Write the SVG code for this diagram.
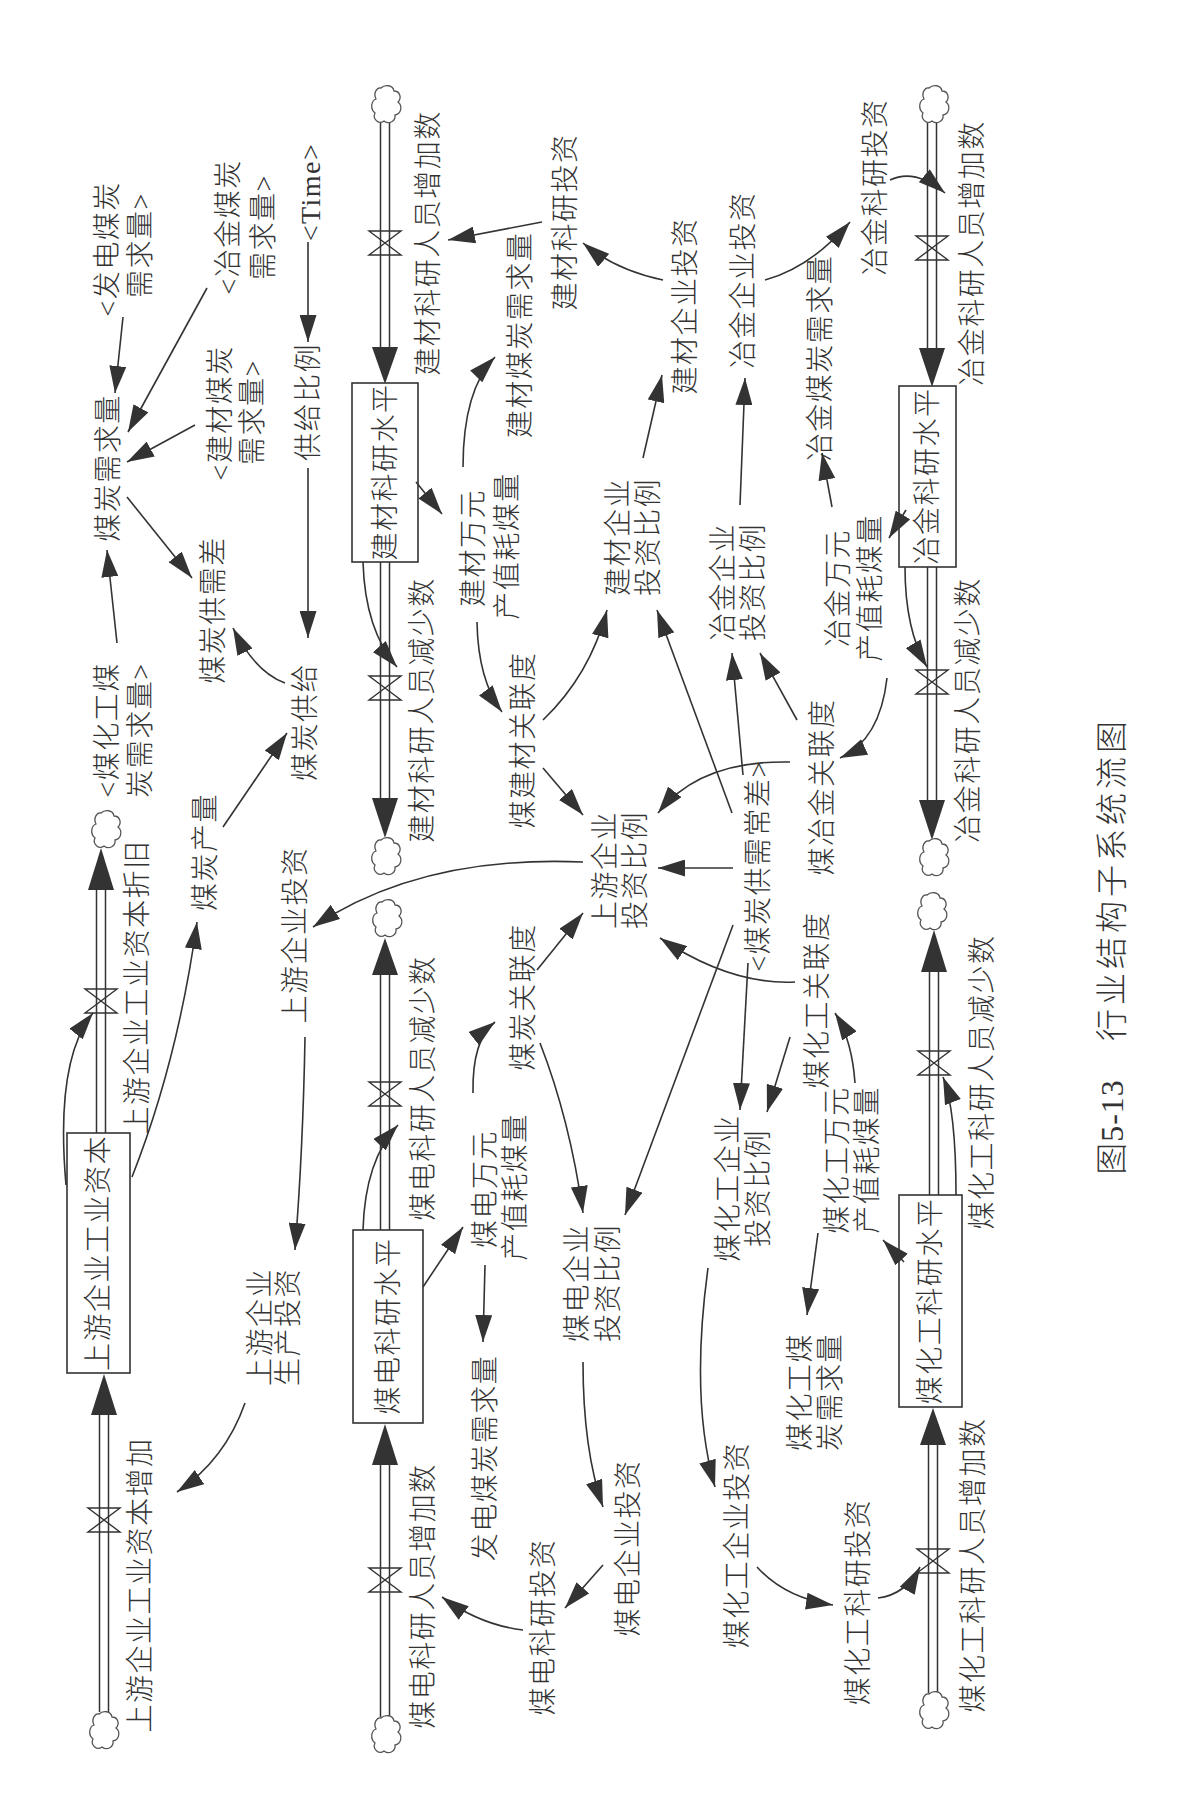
<svg xmlns="http://www.w3.org/2000/svg" width="1203" height="1813" viewBox="0 0 1203 1813">
<style>
.t{font-family:"Liberation Serif","Noto Sans CJK SC",serif;font-size:28px;font-weight:300;fill:#333;text-anchor:middle;dominant-baseline:central;letter-spacing:1.5px}
.cap{font-family:"Liberation Serif","Noto Sans CJK SC",serif;font-size:32px;font-weight:300;fill:#333;text-anchor:middle;dominant-baseline:central;letter-spacing:4px}
.c{fill:none;stroke:#333;stroke-width:1.6;marker-end:url(#ah)}
.box{fill:#fff;stroke:#333;stroke-width:1.6}
.po{fill:none;stroke:#333;stroke-width:10.5}
.pi{fill:none;stroke:#fff;stroke-width:7.5}
.ph{fill:#333}
.v{fill:none;stroke:#333;stroke-width:1.4}
.cl{fill:#fff;stroke:#555;stroke-width:1.3}
</style>
<defs>
<marker id="ah" markerUnits="userSpaceOnUse" markerWidth="27" markerHeight="17" refX="27" refY="8.5" orient="auto"><path d="M0,0 L27,8.5 L0,17 Z" fill="#333"/></marker>
<path id="cloud" d="M-6,-17 C-2,-21 6,-20 7,-14 C13,-14 15,-7 11,-3 C16,1 14,9 8,10 C9,16 2,20 -3,16 C-8,20 -15,14 -12,8 C-17,4 -16,-4 -11,-6 C-14,-12 -10,-18 -6,-17 Z"/>
<path id="valve" d="M-16,-12 L16,-12 L-16,12 L16,12 Z"/>
</defs>
<rect width="1203" height="1813" fill="#fff"/>

<g id="pipes">
<path class="po" d="M104,1712 V1415"/><path class="pi" d="M104,1712 V1415"/>
<polygon class="ph" points="104,1374 91,1415 117,1415"/>
<use href="#valve" class="v" x="104" y="1520"/>
<use href="#cloud" class="cl" x="105" y="1731"/>
<path class="po" d="M101,1133 V890"/><path class="pi" d="M101,1133 V890"/>
<polygon class="ph" points="101,848 88,890 114,890"/>
<use href="#valve" class="v" x="101" y="1001"/>
<use href="#cloud" class="cl" x="107" y="830"/>
<path class="po" d="M385,123 V347"/><path class="pi" d="M385,123 V347"/>
<polygon class="ph" points="385,384 372,347 398,347"/>
<use href="#valve" class="v" x="385" y="243"/>
<use href="#cloud" class="cl" x="387" y="105"/>
<path class="po" d="M385,562 V798"/><path class="pi" d="M385,562 V798"/>
<polygon class="ph" points="385,838 372,798 398,798"/>
<use href="#valve" class="v" x="385" y="688"/>
<use href="#cloud" class="cl" x="387" y="857"/>
<path class="po" d="M932,123 V348"/><path class="pi" d="M932,123 V348"/>
<polygon class="ph" points="932,387 919,348 945,348"/>
<use href="#valve" class="v" x="932" y="248"/>
<use href="#cloud" class="cl" x="935" y="105"/>
<path class="po" d="M932,567 V800"/><path class="pi" d="M932,567 V800"/>
<polygon class="ph" points="932,840 919,800 945,800"/>
<use href="#valve" class="v" x="932" y="682"/>
<use href="#cloud" class="cl" x="935" y="858"/>
<path class="po" d="M385,1230 V975"/><path class="pi" d="M385,1230 V975"/>
<polygon class="ph" points="385,938 372,975 398,975"/>
<use href="#valve" class="v" x="385" y="1094"/>
<use href="#cloud" class="cl" x="388" y="919"/>
<path class="po" d="M385,1717 V1465"/><path class="pi" d="M385,1717 V1465"/>
<polygon class="ph" points="385,1424 372,1465 398,1465"/>
<use href="#valve" class="v" x="385" y="1580"/>
<use href="#cloud" class="cl" x="387" y="1735"/>
<path class="po" d="M934,1195 V972"/><path class="pi" d="M934,1195 V972"/>
<polygon class="ph" points="934,930 921,972 947,972"/>
<use href="#valve" class="v" x="934" y="1063"/>
<use href="#cloud" class="cl" x="933" y="912"/>
<path class="po" d="M933,1693 V1445"/><path class="pi" d="M933,1693 V1445"/>
<polygon class="ph" points="933,1408 920,1445 946,1445"/>
<use href="#valve" class="v" x="933" y="1561"/>
<use href="#cloud" class="cl" x="935" y="1711"/>
</g>

<g id="stock-upstream"><rect class="box" x="67" y="1133" width="63" height="240"/><text class="t" transform="translate(98,1253) rotate(-90)">上游企业工业资本</text></g>
<g id="stock-jiancai"><rect class="box" x="352" y="383" width="66" height="179"/><text class="t" transform="translate(385,472) rotate(-90)">建材科研水平</text></g>
<g id="stock-yejin"><rect class="box" x="899" y="386" width="57" height="181"/><text class="t" transform="translate(927,476) rotate(-90)">冶金科研水平</text></g>
<g id="stock-meidian"><rect class="box" x="353" y="1230" width="70" height="193"/><text class="t" transform="translate(388,1326) rotate(-90)">煤电科研水平</text></g>
<g id="stock-meihuagong"><rect class="box" x="899" y="1195" width="63" height="212"/><text class="t" transform="translate(930,1301) rotate(-90)">煤化工科研水平</text></g>

<g id="n-fadian-demand-shadow"><text class="t" transform="translate(107,249) rotate(-90)">&lt;发电煤炭</text><text class="t" transform="translate(140,245) rotate(-90)">需求量&gt;</text></g>
<g id="n-yejin-demand-shadow"><text class="t" transform="translate(228,227) rotate(-90)">&lt;冶金煤炭</text><text class="t" transform="translate(263,227) rotate(-90)">需求量&gt;</text></g>
<g id="n-jiancai-demand-shadow"><text class="t" transform="translate(220,413) rotate(-90)">&lt;建材煤炭</text><text class="t" transform="translate(252,412) rotate(-90)">需求量&gt;</text></g>
<g id="n-coal-demand"><text class="t" transform="translate(108,468) rotate(-90)">煤炭需求量</text></g>
<g id="n-time"><text class="t" transform="translate(310,192) rotate(-90)">&lt;Time&gt;</text></g>
<g id="n-supply-ratio"><text class="t" transform="translate(308,402) rotate(-90)">供给比例</text></g>
<g id="n-jc-inc"><text class="t" transform="translate(428,243) rotate(-90)">建材科研人员增加数</text></g>
<g id="n-jc-rd-inv"><text class="t" transform="translate(565,222) rotate(-90)">建材科研投资</text></g>
<g id="n-jc-coal-demand"><text class="t" transform="translate(520,335) rotate(-90)">建材煤炭需求量</text></g>
<g id="n-jc-ent-inv"><text class="t" transform="translate(685,306) rotate(-90)">建材企业投资</text></g>
<g id="n-yj-ent-inv"><text class="t" transform="translate(743,280) rotate(-90)">冶金企业投资</text></g>
<g id="n-yj-coal-demand"><text class="t" transform="translate(820,358) rotate(-90)">冶金煤炭需求量</text></g>
<g id="n-yj-rd-inv"><text class="t" transform="translate(875,187) rotate(-90)">冶金科研投资</text></g>
<g id="n-yj-inc"><text class="t" transform="translate(972,253) rotate(-90)">冶金科研人员增加数</text></g>
<g id="n-gap"><text class="t" transform="translate(213,610) rotate(-90)">煤炭供需差</text></g>
<g id="n-supply"><text class="t" transform="translate(305,722) rotate(-90)">煤炭供给</text></g>
<g id="n-mhg-demand-shadow"><text class="t" transform="translate(107,730) rotate(-90)">&lt;煤化工煤</text><text class="t" transform="translate(140,730) rotate(-90)">炭需求量&gt;</text></g>
<g id="n-depr"><text class="t" transform="translate(137,987) rotate(-90)">上游企业工业资本折旧</text></g>
<g id="n-output"><text class="t" transform="translate(205,852) rotate(-90)">煤炭产量</text></g>
<g id="n-jc-dec"><text class="t" transform="translate(422,710) rotate(-90)">建材科研人员减少数</text></g>
<g id="n-up-inv"><text class="t" transform="translate(295,935) rotate(-90)">上游企业投资</text></g>
<g id="n-jc-wanyuan"><text class="t" transform="translate(473,548) rotate(-90)">建材万元</text><text class="t" transform="translate(507,546) rotate(-90)">产值耗煤量</text></g>
<g id="n-jc-ratio"><text class="t" transform="translate(618,537) rotate(-90)">建材企业</text><text class="t" transform="translate(648,537) rotate(-90)">投资比例</text></g>
<g id="n-mjc-rel"><text class="t" transform="translate(523,740) rotate(-90)">煤建材关联度</text></g>
<g id="n-up-ratio"><text class="t" transform="translate(605,870) rotate(-90)">上游企业</text><text class="t" transform="translate(635,870) rotate(-90)">投资比例</text></g>
<g id="n-yj-ratio"><text class="t" transform="translate(723,582) rotate(-90)">冶金企业</text><text class="t" transform="translate(753,582) rotate(-90)">投资比例</text></g>
<g id="n-gap-shadow"><text class="t" transform="translate(758,866) rotate(-90)">&lt;煤炭供需常差&gt;</text></g>
<g id="n-myj-rel"><text class="t" transform="translate(822,787) rotate(-90)">煤冶金关联度</text></g>
<g id="n-yj-wanyuan"><text class="t" transform="translate(838,588) rotate(-90)">冶金万元</text><text class="t" transform="translate(870,588) rotate(-90)">产值耗煤量</text></g>
<g id="n-yj-dec"><text class="t" transform="translate(968,710) rotate(-90)">冶金科研人员减少数</text></g>
<g id="n-up-prod-inv"><text class="t" transform="translate(260,1327) rotate(-90)">上游企业</text><text class="t" transform="translate(288,1327) rotate(-90)">生产投资</text></g>
<g id="n-md-dec"><text class="t" transform="translate(423,1088) rotate(-90)">煤电科研人员减少数</text></g>
<g id="n-mt-rel"><text class="t" transform="translate(523,997) rotate(-90)">煤炭关联度</text></g>
<g id="n-md-wanyuan"><text class="t" transform="translate(485,1189) rotate(-90)">煤电万元</text><text class="t" transform="translate(515,1187) rotate(-90)">产值耗煤量</text></g>
<g id="n-md-ratio"><text class="t" transform="translate(577,1283) rotate(-90)">煤电企业</text><text class="t" transform="translate(608,1283) rotate(-90)">投资比例</text></g>
<g id="n-mhg-ratio"><text class="t" transform="translate(728,1188) rotate(-90)">煤化工企业</text><text class="t" transform="translate(758,1188) rotate(-90)">投资比例</text></g>
<g id="n-mhg-rel"><text class="t" transform="translate(817,1000) rotate(-90)">煤化工关联度</text></g>
<g id="n-mhg-dec"><text class="t" transform="translate(982,1082) rotate(-90)">煤化工科研人员减少数</text></g>
<g id="n-mhg-wanyuan"><text class="t" transform="translate(837,1160) rotate(-90)">煤化工万元</text><text class="t" transform="translate(867,1160) rotate(-90)">产值耗煤量</text></g>
<g id="n-up-add"><text class="t" transform="translate(140,1585) rotate(-90)">上游企业工业资本增加</text></g>
<g id="n-md-inc"><text class="t" transform="translate(423,1596) rotate(-90)">煤电科研人员增加数</text></g>
<g id="n-fadian-demand"><text class="t" transform="translate(485,1458) rotate(-90)">发电煤炭需求量</text></g>
<g id="n-md-ent-inv"><text class="t" transform="translate(628,1548) rotate(-90)">煤电企业投资</text></g>
<g id="n-md-rd-inv"><text class="t" transform="translate(543,1627) rotate(-90)">煤电科研投资</text></g>
<g id="n-mhg-ent-inv"><text class="t" transform="translate(737,1545) rotate(-90)">煤化工企业投资</text></g>
<g id="n-mhg-demand"><text class="t" transform="translate(800,1392) rotate(-90)">煤化工煤</text><text class="t" transform="translate(830,1392) rotate(-90)">炭需求量</text></g>
<g id="n-mhg-rd-inv"><text class="t" transform="translate(858,1602) rotate(-90)">煤化工科研投资</text></g>
<g id="n-mhg-inc"><text class="t" transform="translate(973,1565) rotate(-90)">煤化工科研人员增加数</text></g>

<g id="connectors">
<path class="c" d="M123,317 L115,393"/>
<path class="c" d="M207,288 L128,432"/>
<path class="c" d="M195,425 L127,462"/>
<path class="c" d="M308,242 L308,342"/>
<path class="c" d="M308,468 L308,638"/>
<path class="c" d="M127,497 L192,578"/>
<path class="c" d="M285,683 Q255,672 233,628"/>
<path class="c" d="M117,643 L107,550"/>
<path class="c" d="M223,827 L287,733"/>
<path class="c" d="M132,1177 Q178,1060 197,922"/>
<path class="c" d="M66,1185 Q55,1060 93,1013"/>
<path class="c" d="M363,562 Q365,630 397,667"/>
<path class="c" d="M416,482 L442,514"/>
<path class="c" d="M477,622 Q478,680 502,712"/>
<path class="c" d="M463,467 Q463,390 495,357"/>
<path class="c" d="M542,222 L448,240"/>
<path class="c" d="M663,280 Q615,270 583,243"/>
<path class="c" d="M643,458 L662,375"/>
<path class="c" d="M740,505 L745,378"/>
<path class="c" d="M765,280 Q810,268 850,222"/>
<path class="c" d="M832,507 L822,453"/>
<path class="c" d="M890,180 Q915,168 945,193"/>
<path class="c" d="M906,510 L889,538"/>
<path class="c" d="M887,678 Q880,740 840,758"/>
<path class="c" d="M905,567 Q905,630 927,667"/>
<path class="c" d="M543,720 Q590,675 607,610"/>
<path class="c" d="M543,768 L583,815"/>
<path class="c" d="M732,813 L657,610"/>
<path class="c" d="M743,775 L732,653"/>
<path class="c" d="M797,720 L760,653"/>
<path class="c" d="M790,762 Q700,760 658,813"/>
<path class="c" d="M733,868 L658,868"/>
<path class="c" d="M583,862 Q420,855 313,927"/>
<path class="c" d="M537,970 L583,913"/>
<path class="c" d="M473,1093 Q472,1040 495,1022"/>
<path class="c" d="M423,1287 L463,1227"/>
<path class="c" d="M485,1265 L483,1342"/>
<path class="c" d="M540,1043 Q570,1120 583,1213"/>
<path class="c" d="M733,925 L625,1215"/>
<path class="c" d="M795,982 Q730,985 660,938"/>
<path class="c" d="M748,963 L740,1110"/>
<path class="c" d="M790,1037 L767,1112"/>
<path class="c" d="M708,1268 Q690,1400 715,1487"/>
<path class="c" d="M818,1233 L807,1315"/>
<path class="c" d="M855,1083 Q852,1040 835,1013"/>
<path class="c" d="M956,1195 Q956,1110 943,1077"/>
<path class="c" d="M904,1262 L883,1240"/>
<path class="c" d="M305,1037 Q303,1150 295,1250"/>
<path class="c" d="M245,1403 Q225,1460 177,1492"/>
<path class="c" d="M363,1230 Q365,1160 398,1125"/>
<path class="c" d="M583,1362 Q583,1450 603,1507"/>
<path class="c" d="M603,1565 L565,1608"/>
<path class="c" d="M523,1630 Q480,1625 442,1597"/>
<path class="c" d="M757,1567 Q785,1598 833,1605"/>
<path class="c" d="M878,1598 Q905,1595 920,1567"/>
</g>

<g id="caption">
<text class="cap" transform="translate(1112,1127) rotate(-90)" style="letter-spacing:1px">图5-13</text>
<text class="cap" transform="translate(1112,879) rotate(-90)">行业结构子系统流图</text>
</g>
</svg>
